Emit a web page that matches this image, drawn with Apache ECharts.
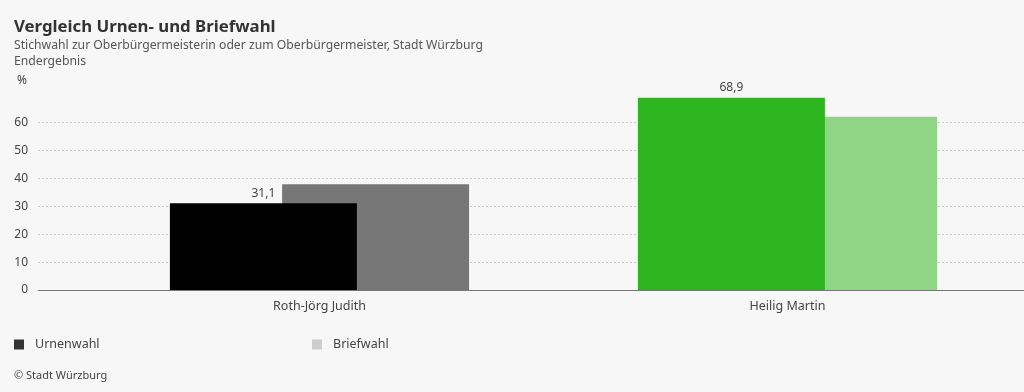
<!DOCTYPE html>
<html><head><meta charset="utf-8">
<script src="https://cdn.jsdelivr.net/npm/echarts@6/dist/echarts.min.js"></script>
<style>html,body{margin:0;padding:0;background:#f7f7f7}#c{width:1024px;height:392px}</style>
</head><body><div id="c"></div>
<script>
const categories = ['Roth-Jörg Judith', 'Heilig Martin'];
const seriesNames = ['Urnenwahl', 'Briefwahl'];
const urnenwahl = [31.1, 68.9];
const briefwahl = [37.9, 62.1];
const urnenColors = ['#000000', '#2db51f'];
const briefColors = ['#777777', '#90d585'];
const yTicks = [0, 10, 20, 30, 40, 50, 60, 70];

const FONT = '"Noto Sans", sans-serif';
const chart = echarts.init(document.getElementById('c'));
const fmt = v => v.toFixed(1).replace('.', ',');
const gTop = 94.8, gBottom = 102;
chart.setOption({
  backgroundColor: '#f7f7f7',
  textStyle: { fontFamily: FONT },
  title: [
    { text: 'Vergleich Urnen- und Briefwahl', left: 14, top: 18.5, padding: 0,
      textStyle: { fontSize: 16.8, fontWeight: 'bold', color: '#333', fontFamily: FONT } },
    { text: 'Stichwahl zur Oberbürgermeisterin oder zum Oberbürgermeister, Stadt Würzburg\nEndergebnis', left: 14, top: 37.5, padding: 0,
      textStyle: { fontSize: 12.2, fontWeight: 'normal', color: '#555', lineHeight: 16, fontFamily: FONT } },
    { text: '%', left: 17, top: 75, padding: 0, textStyle: { fontSize: 12, fontWeight: 'normal', color: '#444', fontFamily: FONT } },
    { text: '© Stadt Würzburg', left: 14, top: 370, padding: 0, textStyle: { fontSize: 11, fontWeight: 'normal', color: '#444', fontFamily: FONT } }
  ],
  legend: [
    { data: [seriesNames[0]], left: 14, top: 338, padding: 0, itemWidth: 10, itemHeight: 10, icon: 'rect',
      textStyle: { fontSize: 12.5, color: '#444', padding: [0, 0, 0, 6] } },
    { data: [seriesNames[1]], left: 312, top: 338, padding: 0, itemWidth: 10, itemHeight: 10, icon: 'rect',
      textStyle: { fontSize: 12.5, color: '#444', padding: [0, 0, 0, 6] } }
  ],
  grid: [
    { left: 38, right: 0, top: gTop, bottom: gBottom },
    { left: 85.5, width: 936, top: gTop, bottom: gBottom }
  ],
  xAxis: [
    { type: 'category', gridIndex: 0, data: categories, axisTick: { show: false }, axisLabel: { show: false },
      axisLine: { lineStyle: { color: '#777', width: 1 } } },
    { type: 'category', gridIndex: 1, data: categories, axisTick: { show: false }, axisLine: { show: false },
      axisLabel: { color: '#444', fontSize: 12.5, margin: 10 } }
  ],
  yAxis: [
    { type: 'value', gridIndex: 0, min: yTicks[0], max: yTicks[yTicks.length - 1], interval: 10,
      axisLabel: { color: '#444', fontSize: 12, margin: 10, showMaxLabel: false, padding: [0, 0, 6, 0] },
      splitLine: { showMaxLine: false, lineStyle: { color: '#cfcfcf', type: [2, 2] } } },
    { type: 'value', gridIndex: 1, min: yTicks[0], max: yTicks[yTicks.length - 1], interval: 10, show: false,
      splitLine: { show: false } }
  ],
  series: [
    { name: seriesNames[0], type: 'bar', xAxisIndex: 1, yAxisIndex: 1, barWidth: 187, barGap: '-40%', z: 3,
      itemStyle: { color: '#333' },
      data: urnenwahl.map((v, i) => ({ value: v, itemStyle: { color: urnenColors[i] } })),
      label: { show: true, position: 'top', distance: 4, color: '#444', fontSize: 12, formatter: p => fmt(p.value) } },
    { name: seriesNames[1], type: 'bar', xAxisIndex: 1, yAxisIndex: 1, barWidth: 187, z: 2,
      itemStyle: { color: '#cccccc' },
      data: briefwahl.map((v, i) => ({ value: v, itemStyle: { color: briefColors[i] } })) }
  ],
  animation: false
});
</script></body></html>
